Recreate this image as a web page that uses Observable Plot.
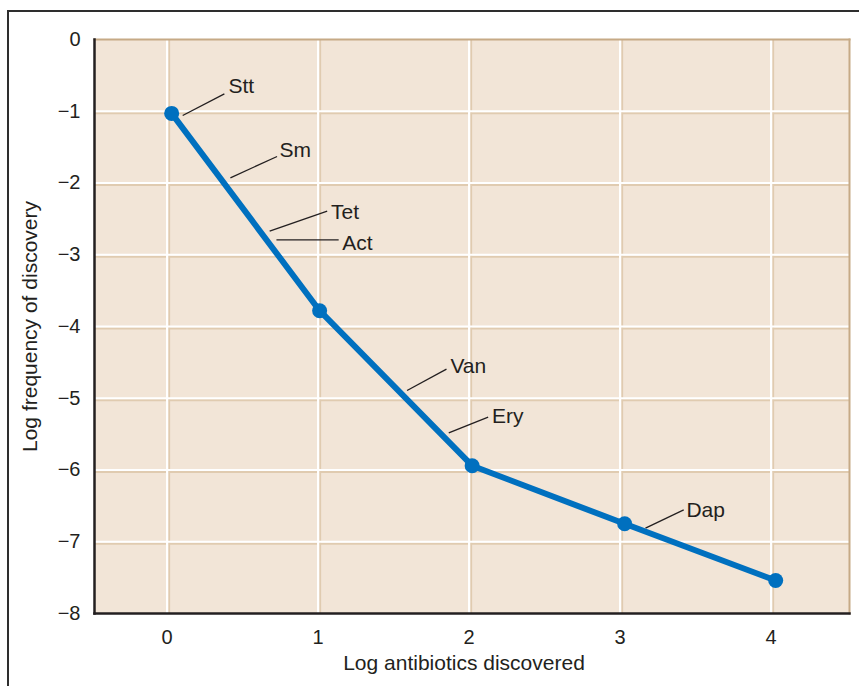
<!DOCTYPE html>
<html>
<head>
<meta charset="utf-8">
<script src="https://cdn.jsdelivr.net/npm/d3@7"></script>
<script src="https://cdn.jsdelivr.net/npm/@observablehq/plot@0.6"></script>
<style>
  html, body { margin: 0; padding: 0; background: #fff; }
  #wrap { position: relative; width: 859px; height: 686px; overflow: hidden; }
  #frame { position: absolute; left: 7px; top: 10px; width: 900px; height: 800px;
           border-left: 2.5px solid #2e2e2e; border-top: 2.5px solid #2e2e2e; }
  #chart { position: absolute; left: 0; top: 0; }
</style>
</head>
<body>
<div id="wrap"><div id="frame"></div><div id="chart"></div></div>
<script>
// Data: log antibiotics discovered vs log frequency of discovery
const xVals = [0.03, 1.01, 2.02, 3.03, 4.03];
const yVals = [-1.03, -3.78, -5.94, -6.75, -7.54];

// Tick values
const xTicks = [0, 1, 2, 3, 4];
const yTicks = [0, -1, -2, -3, -4, -5, -6, -7, -8];
const xGrid = [0, 1, 2, 3, 4];
const yGrid = [-1, -2, -3, -4, -5, -6, -7];

// Axis titles
const xTitle = ["Log antibiotics discovered"];
const yTitle = "Log frequency of discovery";

// Annotations (antibiotic names) in data units: leader start, leader end, text anchor
const labNames = ["Stt", "Sm", "Tet", "Act", "Van", "Ery", "Dap"];
const labX1 = [0.103, 0.419, 0.679, 0.724, 1.589, 1.865, 3.168];
const labY1 = [-1.059, -1.928, -2.672, -2.792, -4.892, -5.482, -6.811];
const labX2 = [0.379, 0.728, 1.060, 1.136, 1.850, 2.126, 3.421];
const labY2 = [-0.757, -1.631, -2.393, -2.792, -4.595, -5.264, -6.555];
const labTX = [0.406, 0.744, 1.086, 1.159, 1.876, 2.152, 3.439];
const labTY = [-0.655, -1.547, -2.407, -2.839, -4.557, -5.254, -6.555];

const pts = xVals.map((x, i) => ({x, y: yVals[i]}));
const labs = labNames.map((name, i) => ({
  name, x1: labX1[i], y1: labY1[i], x2: labX2[i], y2: labY2[i], tx: labTX[i], ty: labTY[i]
}));

const bg = "#f2e5d7";
const tan = "#e0cbb0";
const tanEdge = "#c6aa86";
const dark = "#231f20";
const blue = "#0070bf";
const font = "'Liberation Sans', Arial, Helvetica, sans-serif";

const chart = Plot.plot({
  width: 859,
  height: 686,
  marginLeft: 94,
  marginTop: 39,
  marginRight: 10,
  marginBottom: 73,
  style: { fontFamily: font, fontSize: "20px", color: dark, background: "transparent" },
  x: { domain: [-0.481, 4.519] },
  y: { domain: [-8, 0] },
  marks: [
    Plot.frame({ fill: bg, stroke: "none" }),
    // gridlines: tan shadow + white line
    Plot.ruleX(xGrid, { stroke: tan, strokeWidth: 2, dx: 2 }),
    Plot.ruleY(yGrid, { stroke: tan, strokeWidth: 2, dy: 2 }),
    Plot.ruleX(xGrid, { stroke: "#fff", strokeWidth: 2.2 }),
    Plot.ruleY(yGrid, { stroke: "#fff", strokeWidth: 2.2 }),
    // plot border: tan top/right, dark left/bottom
    Plot.frame({ anchor: "top", stroke: tanEdge, strokeWidth: 2 }),
    Plot.frame({ anchor: "right", stroke: tanEdge, strokeWidth: 2 }),
    Plot.frame({ anchor: "left", stroke: dark, strokeWidth: 2.5 }),
    Plot.frame({ anchor: "bottom", stroke: dark, strokeWidth: 2.5 }),
    Plot.axisX({
      ticks: xTicks, tickSize: 0, tickPadding: 16, fontSize: 20, tickFormat: d3.format("d"),
      fill: dark, label: null
    }),
    Plot.text(xTitle, {
      frameAnchor: "bottom", lineAnchor: "middle", dy: 50, dx: -8, fontSize: 21, fill: dark, text: d => d
    }),
    Plot.axisY({
      ticks: yTicks, tickSize: 0, tickPadding: 14, fontSize: 20, tickFormat: d3.format("d"),
      fill: dark, label: null
    }),
    Plot.axisY({
      ticks: [], label: yTitle, labelAnchor: "center", labelArrow: "none",
      labelOffset: 72, fontSize: 21, fill: dark
    }),
    // leader lines
    Plot.link(labs, { x1: "x1", y1: "y1", x2: "x2", y2: "y2", stroke: dark, strokeWidth: 1.3 }),
    Plot.text(labs, { x: "tx", y: "ty", text: "name", textAnchor: "start", fontSize: 21, fill: dark }),
    // data line and points
    Plot.line(pts, { x: "x", y: "y", stroke: blue, strokeWidth: 6, strokeLinejoin: "round" }),
    Plot.dot(pts, { x: "x", y: "y", r: 7.5, fill: blue, stroke: "none" })
  ]
});
document.getElementById("chart").appendChild(chart);
</script>
</body>
</html>
